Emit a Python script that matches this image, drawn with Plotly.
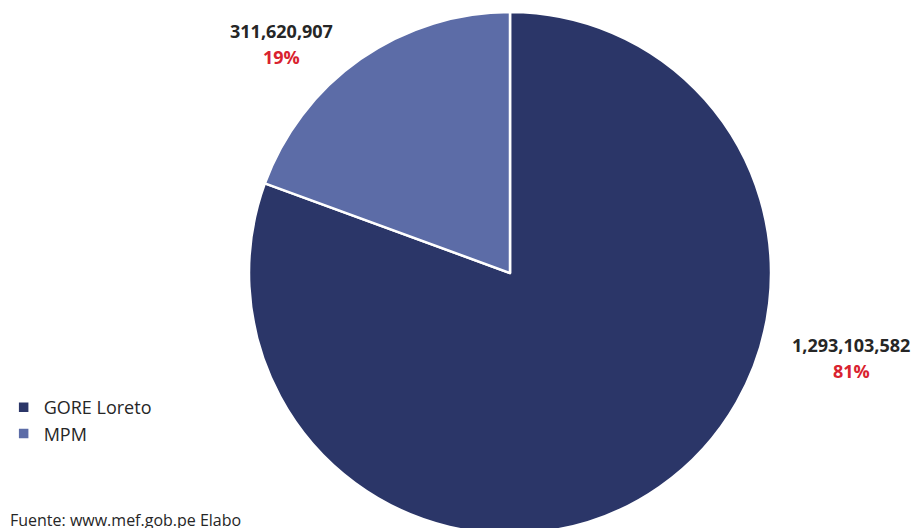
import plotly.graph_objects as go

labels = ["GORE Loreto", "MPM"]
values = [1293103582, 311620907]
colors = ["#2b3668", "#5c6ca7"]
value_text = ["1,293,103,582", "311,620,907"]
pct_text = ["81%", "19%"]
label_pos = [(851, 345), (281, 31)]  # pixel position (x, from top) of the value line

W, H = 915, 536
fig = go.Figure()
fig.add_trace(go.Pie(
    labels=labels, values=values, sort=False, direction="clockwise", rotation=0,
    marker=dict(colors=colors, line=dict(color="white", width=2.5)),
    textinfo="none", hoverinfo="label+value+percent",
    domain=dict(x=[249/W, 771/W], y=[(H-534)/H, (H-12)/H]),
))

for i in range(len(labels)):
    px, py = label_pos[i]
    fig.add_annotation(
        x=px/W, y=(H-py)/H, xref="paper", yref="paper", showarrow=False,
        text=f"<b>{value_text[i]}</b>",
        font=dict(family="Open Sans", size=18, color="#262626"),
        xanchor="center", yanchor="middle",
    )
    fig.add_annotation(
        x=px/W, y=(H-py-26)/H, xref="paper", yref="paper", showarrow=False,
        text=f"<b>{pct_text[i]}</b>",
        font=dict(family="Open Sans", size=18, color="#d9222f"),
        xanchor="center", yanchor="middle",
    )

fig.add_annotation(
    x=8/W, y=(H-520)/H, xref="paper", yref="paper", showarrow=False,
    text="Fuente: www.mef.gob.pe Elabo", xanchor="left", yanchor="middle",
    font=dict(family="Open Sans", size=16, color="#262626"),
)

fig.update_layout(
    width=W, height=H, margin=dict(l=0, r=0, t=0, b=0),
    paper_bgcolor="white", plot_bgcolor="white",
    showlegend=True,
    legend=dict(x=0.004, y=(H-389)/H, xanchor="left", yanchor="top",
                font=dict(family="Open Sans", size=18, color="#262626"),
                itemwidth=30, tracegroupgap=0),
)

fig.write_html("out.html", post_script="document.documentElement.style.overflow='hidden';document.body.style.overflow='hidden';")
